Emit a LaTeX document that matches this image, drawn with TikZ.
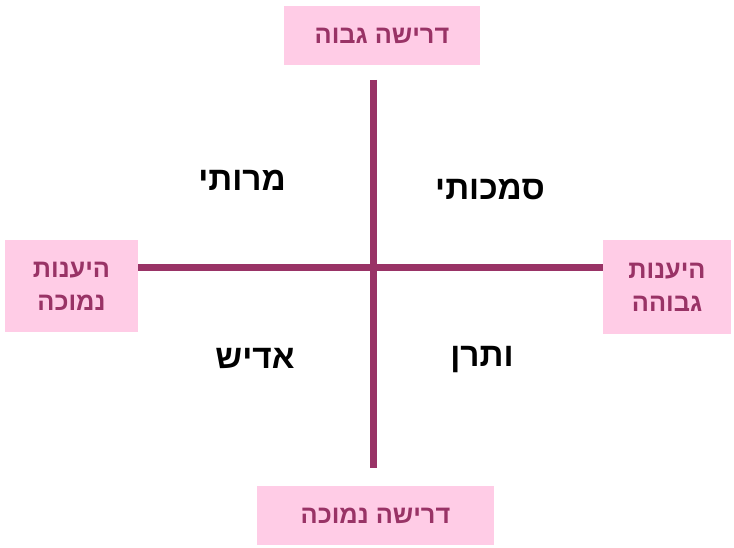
\documentclass[tikz,border=0pt]{standalone}
\usepackage{fontspec}
\TeXXeTstate=1
\newfontfamily\hebfont[Script=Hebrew]{Liberation Sans}
\definecolor{plum}{HTML}{993366}
\definecolor{pinkfill}{HTML}{FFCCE6}
\tikzset{
  pbox/.style={fill=pinkfill, draw=none, inner sep=0pt, text=plum, font=\hebfont\bfseries\fontsize{19}{25}\selectfont, align=center},
  axis/.style={draw=plum, line width=5.25pt},
  quad/.style={font=\hebfont\bfseries\fontsize{25}{32}\selectfont, text=black}
}
\begin{document}
\begin{tikzpicture}[x=0.75pt,y=-0.75pt]
\useasboundingbox (0,0) rectangle (734,548);
\node[pbox, minimum width=196*0.75pt, minimum height=59*0.75pt] (top) at (382,35.5) {\beginR דרישה גבוה\endR};
\node[pbox, minimum width=237*0.75pt, minimum height=59*0.75pt] (bot) at (375.5,515.5) {\beginR דרישה נמוכה\endR};
\node[pbox, minimum width=133*0.75pt, minimum height=92*0.75pt] (left) at (71.5,286) {\beginR היענות\endR\\\beginR נמוכה\endR};
\node[pbox, minimum width=128*0.75pt, minimum height=94*0.75pt] (right) at (667,287) {\beginR היענות\endR\\\beginR גבוהה\endR};
\coordinate (vt) at (373,80);
\coordinate (vb) at (373,468);
\draw[axis] (vt) -- (vb);
\draw[axis] (left.east |- 0,268) -- (right.west |- 0,268);
\node[quad] (q1) at (242,180) {\beginR מרותי\endR};
\node[quad] (q2) at (490,190) {\beginR סמכותי\endR};
\node[quad] (q3) at (255,358) {\beginR אדיש\endR};
\node[quad] (q4) at (482,360) {\beginR ותרן\endR};
\end{tikzpicture}
\end{document}
